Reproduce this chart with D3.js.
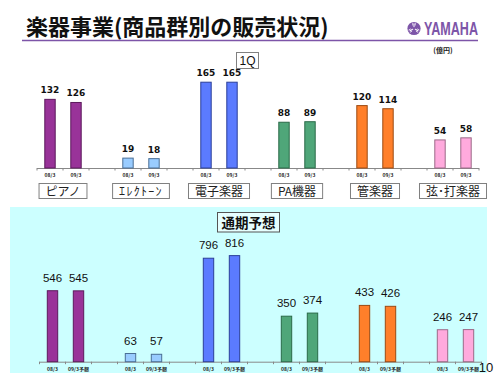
<!DOCTYPE html>
<html><head><meta charset="utf-8">
<script src="https://cdn.jsdelivr.net/npm/d3@7"></script>
<style>html,body{margin:0;padding:0;background:#fff;}svg{display:block;}</style>
</head><body>
<svg id="c" width="500" height="375"></svg>
<script>
// ---- data ----
const categories = ["ピアノ", "ｴﾚｸﾄｰﾝ", "電子楽器", "PA機器", "管楽器", "弦･打楽器"];
const q1TickLabels = ["08/3", "09/3"];
const fyTickLabels = ["08/3", "09/3予想"];
const q1Prev = [132, 19, 165, 88, 120, 54];
const q1Curr = [126, 18, 165, 89, 114, 58];
const fyPrev = [546, 63, 796, 350, 433, 246];
const fyForecast = [545, 57, 816, 374, 426, 247];

// ---- styles ----
const fills = ["#993399", "#99ccff", "#5b7bff", "#4fa679", "#ff7f2a", "#ffaadd"];
const strokes = ["#5c1a5c", "#4a6f96", "#2b3f99", "#2a6a48", "#9c4a12", "#9c6a88"];
const purple = "#7d55a8";

const svg = d3.select("#c");

// Title
svg.append("text").attr("x", 26).attr("y", 35)
  .attr("font-family", "Noto Sans CJK JP").attr("font-weight", "bold")
  .attr("font-size", 22).attr("fill", "#111")
  .text("楽器事業(商品群別の販売状況)");
svg.append("line").attr("x1", 22).attr("x2", 478).attr("y1", 40.5).attr("y2", 40.5)
  .attr("stroke", purple).attr("stroke-width", 1.6);

// YAMAHA logo
const logo = svg.append("g").attr("transform", "translate(414,28.5)");
logo.append("circle").attr("r", 6.6).attr("fill", purple);
[0, 120, 240].forEach(a => {
  const g = logo.append("g").attr("transform", `rotate(${a})`);
  g.append("line").attr("x1", 0).attr("y1", 0).attr("x2", 0).attr("y2", -5)
    .attr("stroke", "#fff").attr("stroke-width", 1);
  g.append("line").attr("x1", -1.3).attr("y1", -3).attr("x2", -1.3).attr("y2", -5.5)
    .attr("stroke", "#fff").attr("stroke-width", 0.7);
  g.append("line").attr("x1", 1.3).attr("y1", -3).attr("x2", 1.3).attr("y2", -5.5)
    .attr("stroke", "#fff").attr("stroke-width", 0.7);
});
logo.append("circle").attr("r", 1.4).attr("fill", purple);
svg.append("text").attr("x", 424).attr("y", 35)
  .attr("font-family", "Liberation Sans Narrow, Liberation Sans").attr("font-weight", "bold")
  .attr("font-size", 18).attr("fill", purple)
  .attr("textLength", 54).attr("lengthAdjust", "spacingAndGlyphs")
  .text("YAMAHA");

// unit
svg.append("text").attr("x", 443).attr("y", 53).attr("text-anchor", "middle")
  .attr("font-family", "Noto Sans CJK JP").attr("font-weight", "bold")
  .attr("font-size", 7).attr("fill", "#222").text("(億円)");

// bottom panel background
svg.append("rect").attr("x", 10).attr("y", 207).attr("width", 477).attr("height", 166)
  .attr("fill", "#ccffff");

function slotDomain() {
  const d = [];
  categories.forEach((c, i) => {
    d.push(i + "-0", i + "-1");
    if (i < categories.length - 1) d.push(i + "-g");
  });
  return d;
}

function drawPanel(opt) {
  const x = d3.scaleBand().domain(slotDomain()).range(opt.xr)
    .paddingInner(0.6).paddingOuter(0.3);
  const y = d3.scaleLinear().domain(opt.yd).range(opt.yr);
  const g = svg.append("g");
  const base = y(0);

  const step = x.step();
  const x0 = opt.xr[0];
  g.append("line").attr("x1", x0).attr("x2", opt.xr[1]).attr("y1", base + 0.5).attr("y2", base + 0.5)
    .attr("stroke", "#888").attr("stroke-width", 1);
  d3.range(x.domain().length + 1).forEach(k => {
    g.append("line").attr("x1", x0 + k * step).attr("x2", x0 + k * step)
      .attr("y1", base).attr("y2", base + 2.5).attr("stroke", "#888").attr("stroke-width", 1);
  });

  const bars = [];
  categories.forEach((c, i) => {
    bars.push({ key: i + "-0", v: opt.a[i], i, t: opt.ticks[0] });
    bars.push({ key: i + "-1", v: opt.b[i], i, t: opt.ticks[1] });
  });

  g.selectAll("rect.bar").data(bars).join("rect").attr("class", "bar")
    .attr("x", d => x(d.key)).attr("width", x.bandwidth())
    .attr("y", d => y(d.v)).attr("height", d => base - y(d.v))
    .attr("fill", d => fills[d.i]).attr("stroke", d => strokes[d.i]).attr("stroke-width", 1);

  g.selectAll("text.val").data(bars).join("text").attr("class", "val")
    .attr("x", d => x(d.key) + x.bandwidth() / 2).attr("y", d => y(d.v) - opt.labelGap)
    .attr("text-anchor", "middle").attr("font-family", opt.valFont)
    .attr("font-weight", opt.valWeight).attr("font-size", opt.valSize).attr("fill", "#111")
    .text(d => d.v);

  g.selectAll("text.tick").data(bars).join("text").attr("class", "tick")
    .attr("x", d => x(d.key) + x.bandwidth() / 2).attr("y", opt.tickY)
    .attr("text-anchor", "middle").attr("font-family", "Noto Sans CJK JP")
    .attr("font-weight", "bold").attr("font-size", 5).attr("fill", "#222")
    .text(d => d.t);

  return x;
}

// top panel (1Q)
const xTop = drawPanel({
  xr: [37, 479], yd: [0, 200], yr: [168, 64],
  a: q1Prev, b: q1Curr, ticks: q1TickLabels,
  labelGap: 6, valFont: "DejaVu Sans", valWeight: "bold", valSize: 9, tickY: 177
});
// category boxes
categories.forEach((c, i) => {
  const cx = (xTop(i + "-0") + xTop(i + "-1") + xTop.bandwidth()) / 2;
  const grp = svg.append("g");
  const r = grp.append("rect").attr("y", 183.5).attr("height", 15)
    .attr("fill", "#fff").attr("stroke", "#808080").attr("stroke-width", 1);
  const t = grp.append("text").attr("x", cx).attr("y", 195.5).attr("text-anchor", "middle")
    .attr("font-family", "Noto Sans CJK JP").attr("font-size", 12).attr("fill", "#222")
    .attr("letter-spacing", /^[\uFF61-\uFF9F]+$/.test(c) ? 1.3 : 0)
    .text(c);
  const w = t.node().getComputedTextLength() + 13;
  r.attr("x", cx - w / 2).attr("width", w);
});
// 1Q box
{
  const grp = svg.append("g");
  grp.append("rect").attr("x", 236.5).attr("y", 52.5).attr("width", 22).attr("height", 16)
    .attr("fill", "#fff").attr("stroke", "#808080").attr("stroke-width", 1);
  grp.append("text").attr("x", 247.5).attr("y", 65).attr("text-anchor", "middle")
    .attr("font-family", "Liberation Sans").attr("font-size", 12).attr("fill", "#111").text("1Q");
}

// bottom panel (full year)
drawPanel({
  xr: [39.5, 481.5], yd: [0, 1000], yr: [361.7, 231.7],
  a: fyPrev, b: fyForecast, ticks: fyTickLabels,
  labelGap: 9, valFont: "Liberation Sans", valWeight: "normal", valSize: 11.5, tickY: 371
});
{
  const grp = svg.append("g");
  grp.append("rect").attr("x", 217.5).attr("y", 212.5).attr("width", 62).attr("height", 19.5)
    .attr("fill", "#e6ffff").attr("stroke", "#555").attr("stroke-width", 1);
  grp.append("text").attr("x", 248.5).attr("y", 227.5).attr("text-anchor", "middle")
    .attr("font-family", "Noto Sans CJK JP").attr("font-weight", "bold")
    .attr("font-size", 13.5).attr("fill", "#111").text("通期予想");
}

// page number
svg.append("text").attr("x", 486).attr("y", 372).attr("text-anchor", "middle")
  .attr("font-family", "Liberation Sans").attr("font-size", 13).attr("fill", "#111").text("10");
</script>
</body></html>
